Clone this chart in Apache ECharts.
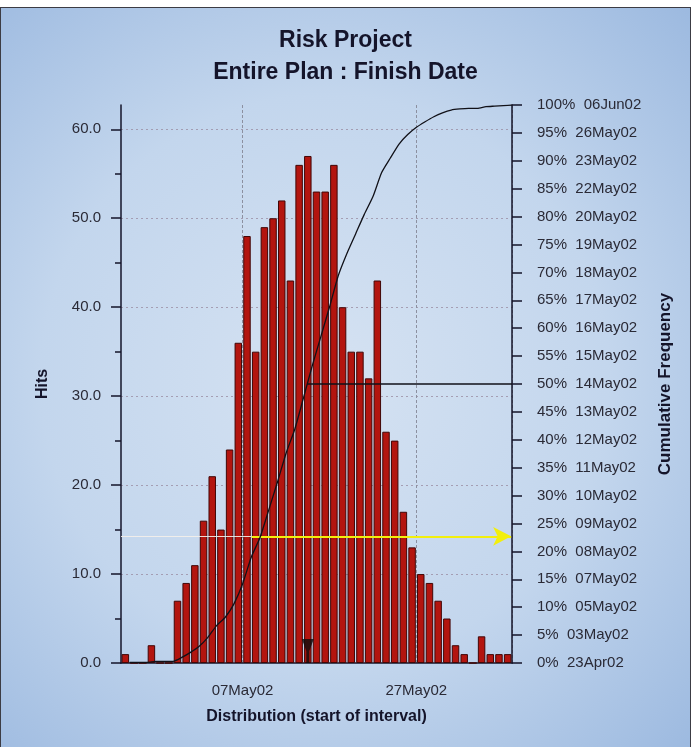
<!DOCTYPE html>
<html>
<head>
<meta charset="utf-8">
<title>Risk Project - Entire Plan : Finish Date</title>
<script src="https://cdn.jsdelivr.net/npm/echarts@6/dist/echarts.min.js"></script>
<style>
  html, body { margin: 0; padding: 0; background: #fff; overflow: hidden; }
  #chart {
    position: absolute; left: 0; top: 7px;
    width: 691px; height: 745px;
    box-sizing: border-box;
    border: 1px solid #3c3c44;
  }
</style>
</head>
<body>
<div id="chart"></div>
<script>
// one histogram bin per day, 23Apr02 .. 06Jun02
const days = [
  '23Apr02', '24Apr02', '25Apr02', '26Apr02', '27Apr02', '28Apr02', '29Apr02', '30Apr02',
  '01May02', '02May02', '03May02', '04May02', '05May02', '06May02', '07May02', '08May02',
  '09May02', '10May02', '11May02', '12May02', '13May02', '14May02', '15May02', '16May02',
  '17May02', '18May02', '19May02', '20May02', '21May02', '22May02', '23May02', '24May02',
  '25May02', '26May02', '27May02', '28May02', '29May02', '30May02', '31May02',
  '01Jun02', '02Jun02', '03Jun02', '04Jun02', '05Jun02', '06Jun02'
]
const hits = [
  1, 0, 0, 2, 0, 0, 7, 9, 11, 16, 21, 15, 24, 36, 48, 35, 49, 50, 52, 43, 56, 57, 53,
  53, 56, 40, 35, 35, 32, 43, 26, 25, 17, 13, 10, 9, 7, 5, 2, 1, 0, 3, 1, 1, 1
]
// cumulative frequency (%) at the end of each day
const cumPct = [
  0.1, 0.1, 0.1, 0.3, 0.3, 0.3, 1.0, 1.9, 3.0, 4.6, 6.7, 8.2, 10.6, 14.2, 19.0,
  22.5, 27.4, 32.4, 37.6, 41.9, 47.5, 53.2, 58.5, 63.8, 69.4, 73.4, 76.9, 80.4,
  83.6, 87.9, 90.5, 93.0, 94.7, 96.0, 97.0, 97.9, 98.6, 99.1, 99.3, 99.4, 99.4,
  99.7, 99.8, 99.9, 100
]
// date reached at 0%, 5%, ... 100%
const pctDates = [
  '23Apr02', '03May02', '05May02', '07May02', '08May02', '09May02', '10May02',
  '11May02', '12May02', '13May02', '14May02', '15May02', '16May02', '17May02',
  '18May02', '19May02', '20May02', '22May02', '23May02', '26May02', '06Jun02'
]
const tickDays = ['27Apr02', '07May02', '17May02', '27May02', '06Jun02']
const labelDays = ['07May02', '27May02']
const hitTicks = [0, 10, 20, 30, 40, 50, 60]
const hitMinorTicks = [5, 15, 25, 35, 45, 55]

// markers (x in days from 23Apr02, y in cumulative %)
const medianPct = 50
const medianFrom = 21.44
const targetPct = 22.7
const targetFrom = 15.04
const targetTo = 44.9
const markerAt = 21.5

const font = '"Liberation Sans", Arial, sans-serif'
const ink = '#14142a'
const textInk = '#2a2a36'

var myChart = echarts.init(document.getElementById('chart'))

var option = {
  animation: false,
  backgroundColor: new echarts.graphic.RadialGradient(0.47, 0.5, 0.75, [
    { offset: 0, color: '#d5e2f2' },
    { offset: 0.55, color: '#c3d6ed' },
    { offset: 1, color: '#9dbae0' },
  ]),
  textStyle: { fontFamily: font },
  title: {
    text: 'Risk Project\nEntire Plan : Finish Date',
    left: 'center',
    top: 12,
    textStyle: {
      fontFamily: font,
      fontSize: 23,
      fontWeight: 'bold',
      lineHeight: 32,
      color: ink,
    },
  },
  grid: { left: 120, top: 97, width: 391, height: 558 },
  xAxis: [
    {
      type: 'category',
      data: days,
      boundaryGap: true,
      name: 'Distribution (start of interval)',
      nameLocation: 'middle',
      nameGap: 46,
      nameTextStyle: { fontFamily: font, fontSize: 16, fontWeight: 'bold', color: ink },
      axisLine: { lineStyle: { color: ink, width: 1.5 } },
      axisTick: {
        interval: (i, v) => tickDays.includes(v),
        length: 7,
        lineStyle: { color: ink, width: 1.5 },
      },
      axisLabel: {
        interval: (i, v) => labelDays.includes(v),
        margin: 20,
        fontSize: 15,
        color: textInk,
        padding: [0, 9, 0, 0],
      },
      splitLine: {
        show: true,
        interval: (i, v) => labelDays.includes(v),
        lineStyle: { color: '#8c90a0', type: [3, 2], width: 1 },
      },
    },
    { type: 'value', min: 0, max: 45, show: false },
  ],
  yAxis: [
    {
      type: 'value',
      min: 0,
      max: 62.73,
      interval: 10,
      position: 'left',
      name: 'Hits',
      nameLocation: 'middle',
      nameRotate: 90,
      nameGap: 70,
      nameTextStyle: { fontFamily: font, fontSize: 16, fontWeight: 'bold', color: ink },
      axisLine: { show: true, lineStyle: { color: ink, width: 1.5 } },
      axisTick: {
        show: true,
        customValues: hitTicks,
        length: 10,
        lineStyle: { color: ink, width: 1.5 },
      },
      axisLabel: {
        customValues: hitTicks,
        formatter: (v) => v.toFixed(1),
        margin: 20,
        fontSize: 15,
        color: textInk,
      },
      splitLine: {
        show: true,
        showMinLine: false,
        lineStyle: { color: '#9b8ea4', type: [2, 3], width: 1, opacity: 0.8 },
      },
    },
    {
      type: 'value',
      min: 0,
      max: 100,
      interval: 5,
      position: 'right',
      name: 'Cumulative Frequency',
      nameLocation: 'middle',
      nameRotate: 90,
      nameGap: 145,
      nameTextStyle: { fontFamily: font, fontSize: 17, fontWeight: 'bold', color: ink },
      axisLine: { show: true, lineStyle: { color: ink, width: 1.5 } },
      axisTick: { show: true, length: 10, lineStyle: { color: ink, width: 1.5 } },
      axisLabel: {
        formatter: (v) => v + '%  ' + pctDates[v / 5],
        margin: 25,
        fontSize: 15,
        color: textInk,
      },
      splitLine: { show: false },
    },
    {
      // minor ticks of the Hits axis
      type: 'value',
      min: 0,
      max: 62.73,
      position: 'left',
      axisLine: { show: false },
      axisTick: {
        show: true,
        customValues: hitMinorTicks,
        length: 6,
        lineStyle: { color: ink, width: 1.5 },
      },
      axisLabel: { show: false },
      splitLine: { show: false },
    },
  ],
  series: [
    {
      name: 'Hits',
      type: 'bar',
      xAxisIndex: 0,
      yAxisIndex: 0,
      data: hits,
      barCategoryGap: '14%',
      itemStyle: { color: '#b3150f', borderColor: '#420707', borderWidth: 1 },
    },
    {
      name: 'Cumulative Frequency',
      type: 'line',
      xAxisIndex: 1,
      yAxisIndex: 1,
      data: cumPct.map((v, i) => [i + 1, v]),
      symbol: 'none',
      smooth: 0.2,
      lineStyle: { color: '#111118', width: 1.3 },
      z: 5,
      markLine: {
        silent: true,
        label: { show: false },
        symbol: 'none',
        data: [
          [
            { coord: [medianFrom, medianPct], lineStyle: { color: '#111118', width: 1.5, type: 'solid' } },
            { coord: [45, medianPct] },
          ],
          [
            { coord: [0, targetPct], lineStyle: { color: '#f4f0ea', width: 1, type: 'solid', opacity: 0.9 } },
            { coord: [targetFrom, targetPct] },
          ],
          [
            { coord: [targetFrom, targetPct], symbol: 'none', lineStyle: { color: '#f2ef0c', width: 2, type: 'solid' } },
            { coord: [targetTo, targetPct], symbol: 'arrow', symbolSize: [14, 18] },
          ],
        ],
      },
    },
    {
      name: 'marker',
      type: 'scatter',
      xAxisIndex: 1,
      yAxisIndex: 0,
      data: [[markerAt, 0]],
      symbol: 'path://M0,0 L12,0 L7.5,12 L7.5,24 L4.5,24 L4.5,12 Z',
      symbolSize: [12, 24],
      symbolOffset: [0, '-50%'],
      itemStyle: { color: '#0c0c0c' },
      z: 6,
    },
  ],
}

myChart.setOption(option)
window.onresize = () => {
  myChart.resize()
}
</script>
</body>
</html>
